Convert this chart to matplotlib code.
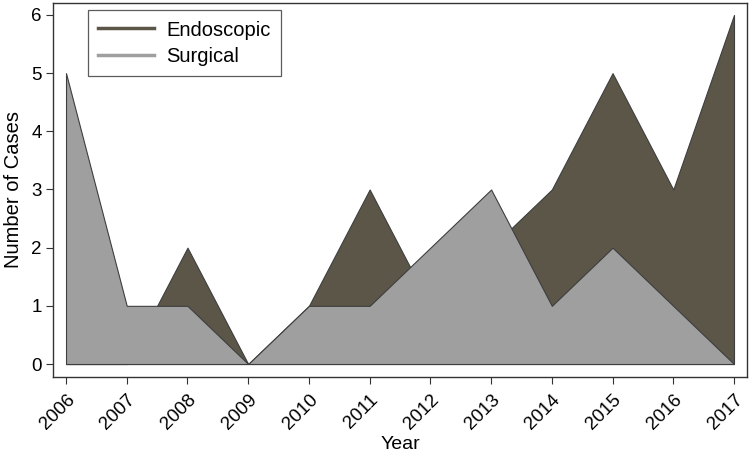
import matplotlib
matplotlib.use("Agg")
import matplotlib.pyplot as plt

years = [2006, 2007, 2008, 2009, 2010, 2011, 2012, 2013, 2014, 2015, 2016, 2017]
endoscopic = [0, 0, 2, 0, 1, 3, 1, 2, 3, 5, 3, 6]
surgical = [5, 1, 1, 0, 1, 1, 2, 3, 1, 2, 1, 0]
yticks = [0, 1, 2, 3, 4, 5, 6]

plt.rcParams['font.family'] = ['Liberation Sans', 'DejaVu Sans']

fig = plt.figure(figsize=(7.5, 4.53), dpi=100)
ax = fig.add_axes([0.0707, 0.1678, 0.9253, 0.8256])

dark = '#5c5649'
gray = '#a09fa0'
edge = '#3e3e3e'

ax.fill_between(years, 0, endoscopic, facecolor=dark, edgecolor=edge, linewidth=0.8, zorder=2)
ax.fill_between(years, 0, surgical, facecolor=gray, edgecolor=edge, linewidth=0.8, zorder=3)

ax.plot([], [], color=dark, linewidth=2.5, label='Endoscopic')
ax.plot([], [], color=gray, linewidth=2.5, label='Surgical')

ax.set_xlim(2005.786, 2017.214)
ax.set_ylim(-0.223, 6.206)
ax.set_xticks(years)
ax.set_xticklabels([str(y) for y in years], rotation=45, ha='right', rotation_mode='anchor', fontsize=13.5)
ax.set_yticks(yticks)
ax.set_yticklabels([str(v) for v in yticks], fontsize=13.5)
ax.tick_params(direction='out', length=5, width=0.8, color='#333333', pad=3)
ax.tick_params(axis='x', pad=5)
for s in ax.spines.values():
    s.set_linewidth(1.0)
    s.set_color('#333333')

ax.set_xlabel('Year', fontsize=14)
ax.xaxis.set_label_coords(0.5, -0.158)
ax.set_ylabel('Number of Cases', fontsize=14.5, labelpad=6)

leg = ax.legend(loc='upper left', bbox_to_anchor=(0.05, 0.98), fontsize=14.5, frameon=True,
                fancybox=False, edgecolor='#333333', handlelength=2.8, handletextpad=0.6,
                borderpad=0.5, labelspacing=0.35, borderaxespad=0)
leg.get_frame().set_linewidth(0.9)

fig.savefig('out.png', dpi=100)
